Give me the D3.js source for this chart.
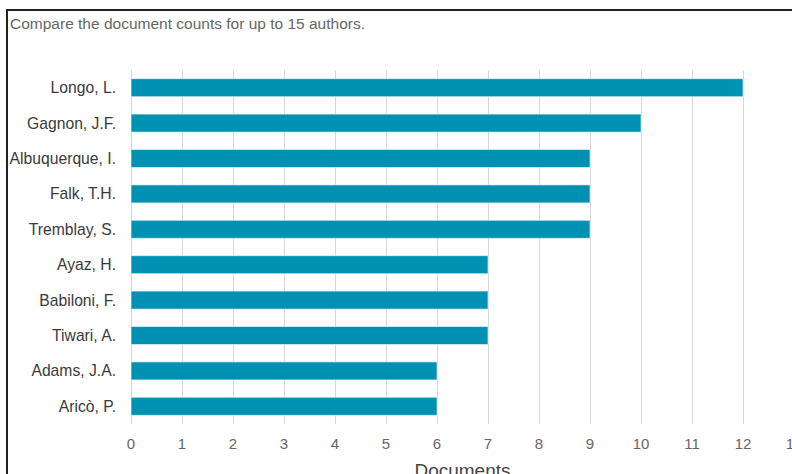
<!DOCTYPE html>
<html>
<head>
<meta charset="utf-8">
<script src="https://cdn.jsdelivr.net/npm/d3@7"></script>
<style>
  body { margin: 0; background: #fff; overflow: hidden; }
  svg { display: block; font-family: "Liberation Sans", Arial, sans-serif; }
</style>
</head>
<body>
<script>
var authors = ["Longo, L.", "Gagnon, J.F.", "Albuquerque, I.", "Falk, T.H.", "Tremblay, S.",
               "Ayaz, H.", "Babiloni, F.", "Tiwari, A.", "Adams, J.A.", "Aricò, P."];
var documents = [12, 10, 9, 9, 9, 7, 7, 7, 6, 6];
var xTicks = [0, 1, 2, 3, 4, 5, 6, 7, 8, 9, 10, 11, 12, 13];

var width = 792, height = 474;

var svg = d3.select("body").append("svg")
    .attr("width", width)
    .attr("height", height);

// outer frame (only top and left edges fall inside the crop)
svg.append("rect")
    .attr("x", 7)
    .attr("y", 10)
    .attr("width", 900)
    .attr("height", 600)
    .attr("fill", "none")
    .attr("stroke", "#222")
    .attr("stroke-width", 2);

svg.append("text")
    .attr("x", 10)
    .attr("y", 29)
    .attr("fill", "#666")
    .style("font-size", "15.5px")
    .text("Compare the document counts for up to 15 authors.");

var plotLeft = 131, plotRight = 794, plotTop = 70, plotBottom = 424;

var x = d3.scaleLinear()
    .domain([0, 13])
    .range([plotLeft, plotRight]);

var y = d3.scaleBand()
    .domain(authors)
    .range([plotTop, plotBottom])
    .paddingInner(0.49)
    .paddingOuter(0.245);

// grid lines
svg.append("g")
    .selectAll("line")
    .data(xTicks)
    .enter().append("line")
    .attr("x1", function (d) { return Math.round(x(d)) + 0.5; })
    .attr("x2", function (d) { return Math.round(x(d)) + 0.5; })
    .attr("y1", plotTop)
    .attr("y2", plotBottom)
    .attr("stroke", function (d) { return d === 0 ? "#ccd6eb" : "#d8d8d8"; })
    .attr("stroke-width", 1);

// bars
svg.append("g")
    .selectAll("rect")
    .data(documents)
    .enter().append("rect")
    .attr("x", x(0))
    .attr("y", function (d, i) { return y(authors[i]); })
    .attr("width", function (d) { return x(d) - x(0); })
    .attr("height", y.bandwidth())
    .attr("fill", "#0091b3")
    .attr("stroke", "#ffffff")
    .attr("stroke-opacity", 0.6)
    .attr("stroke-width", 1);

// category labels
svg.append("g")
    .selectAll("text")
    .data(authors)
    .enter().append("text")
    .attr("x", 116)
    .attr("y", function (d) { return y(d) + y.bandwidth() / 2; })
    .attr("dy", "0.35em")
    .attr("text-anchor", "end")
    .attr("fill", "#3a3a3a")
    .style("font-size", "15.7px")
    .text(function (d) { return d; });

// x tick labels
svg.append("g")
    .selectAll("text")
    .data(xTicks)
    .enter().append("text")
    .attr("x", function (d) { return x(d); })
    .attr("y", 449)
    .attr("text-anchor", "middle")
    .attr("fill", "#666")
    .style("font-size", "15px")
    .text(function (d) { return d; });

svg.append("text")
    .attr("x", (plotLeft + plotRight) / 2)
    .attr("y", 477)
    .attr("text-anchor", "middle")
    .attr("fill", "#444")
    .style("font-size", "19px")
    .text("Documents");
</script>
</body>
</html>
